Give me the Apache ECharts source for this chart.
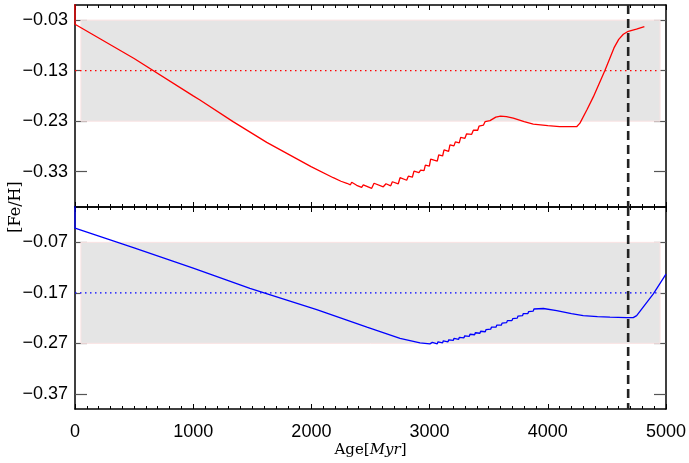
<!DOCTYPE html>
<html>
<head>
<meta charset="utf-8">
<script src="https://cdn.jsdelivr.net/npm/echarts@6/dist/echarts.min.js"></script>
<style>html,body{margin:0;padding:0;background:#fff;}#c{width:689px;height:463px;}</style>
</head>
<body>
<div id="c"></div>
<script>
// ---- data ----
const redAge = [0,0,500,1000,1057,1337,1622,1997,2185,2250,2300,2330,2341,2383,2425,2439,2510,2530,2608,2631,2671,2685,2735,2750,2806,2820,2854,2868,2910,2924,2953,2964,2998,3009,3065,3077,3110,3122,3161,3172,3206,3218,3251,3263,3299,3313,3356,3370,3407,3418,3455,3469,3511,3560,3600,3650,3708,3800,3877,4000,4100,4244,4272,4330,4385,4484,4560,4600,4639,4681,4750,4817];
const redFeH = [0.05,-0.038,-0.106,-0.180,-0.188,-0.231,-0.272,-0.320,-0.342,-0.349,-0.353,-0.356,-0.351,-0.357,-0.361,-0.356,-0.363,-0.353,-0.360,-0.354,-0.358,-0.350,-0.354,-0.342,-0.347,-0.339,-0.341,-0.329,-0.332,-0.327,-0.328,-0.317,-0.319,-0.305,-0.309,-0.297,-0.299,-0.287,-0.290,-0.277,-0.279,-0.271,-0.273,-0.262,-0.264,-0.255,-0.256,-0.248,-0.248,-0.240,-0.238,-0.231,-0.229,-0.222,-0.220,-0.221,-0.224,-0.231,-0.236,-0.239,-0.241,-0.241,-0.234,-0.208,-0.182,-0.129,-0.085,-0.068,-0.058,-0.052,-0.048,-0.043];

const blueAge = [0,0,500,1000,1480,2045,2470,2750,2919,3003,3017,3023,3065,3071,3110,3116,3156,3162,3201,3207,3246,3252,3291,3297,3336,3342,3381,3387,3426,3432,3471,3477,3517,3523,3562,3568,3607,3613,3652,3658,3697,3703,3742,3748,3787,3793,3832,3838,3877,3883,3963,4075,4200,4300,4420,4526,4667,4723,4752,4893,5000];
const blueFeH = [0.05,-0.042,-0.081,-0.121,-0.161,-0.203,-0.238,-0.260,-0.269,-0.271,-0.272,-0.268,-0.271,-0.267,-0.269,-0.265,-0.267,-0.263,-0.264,-0.260,-0.262,-0.258,-0.259,-0.255,-0.256,-0.252,-0.253,-0.249,-0.250,-0.246,-0.247,-0.243,-0.242,-0.238,-0.238,-0.234,-0.234,-0.230,-0.229,-0.225,-0.225,-0.221,-0.220,-0.216,-0.215,-0.211,-0.211,-0.207,-0.206,-0.202,-0.201,-0.205,-0.211,-0.215,-0.217,-0.218,-0.219,-0.219,-0.215,-0.172,-0.133];

const xTicks = [0,1000,2000,3000,4000,5000];
const topYTicks = [-0.03,-0.13,-0.23,-0.33];
const botYTicks = [-0.07,-0.17,-0.27,-0.37];
const topBand = [-0.03,-0.23];
const botBand = [-0.07,-0.27];
const bandAge = [50,4950];
const topRef = -0.13;
const botRef = -0.17;
const solarAge = 4680;

// ---- chart ----
const chart = echarts.init(document.getElementById('c'), null, {renderer:'canvas'});
const pairs = (a,b)=>a.map((x,i)=>[x,b[i]]);
const fmt = v => (v<0?'\u2212':'') + Math.abs(v).toFixed(2);
const labelFont = {fontFamily:'Liberation Sans', fontSize:18, color:'#000'};

function xAx(gi, pos, showLabel){
  return {
    type:'value', gridIndex:gi, position:pos, min:xTicks[0], max:xTicks[xTicks.length-1], interval:xTicks[1]-xTicks[0],
    axisLine:{show:true, onZero:false, lineStyle:{color:'#000', width:1.5}},
    axisTick:{show:true, inside:true, length:5, lineStyle:{color:'#000', width:1}},
    minorTick:{show:true, splitNumber:10, length:3, lineStyle:{color:'#000', width:1}},
    splitLine:{show:false}, minorSplitLine:{show:false},
    axisLabel:{show:showLabel, margin:14, formatter:v=>String(v), ...labelFont},
  };
}
function yAx(gi, pos, ticks, showLabel){
  return {
    type:'value', gridIndex:gi, position:pos, min:-0.4, max:0,
    axisLine:{show:true, onZero:false, lineStyle:{color:'#000', width:1.5}},
    axisTick:{show:true, inside:true, length:12, customValues:ticks, lineStyle:{color:'#555', width:1.2}},
    splitLine:{show:false},
    axisLabel:{show:showLabel, customValues:ticks, formatter:fmt, margin:7, ...labelFont},
  };
}

const xAxes = [xAx(0,'bottom',false), xAx(0,'top',false), xAx(1,'bottom',true), xAx(1,'top',false)];
xAxes[2].name = 'Age[{i|Myr}]';
xAxes[2].nameLocation = 'middle';
xAxes[2].nameGap = 34;
xAxes[2].nameTextStyle = {fontFamily:'DejaVu Serif', fontSize:15, color:'#000', rich:{i:{fontFamily:'DejaVu Serif', fontStyle:'italic', fontSize:15, color:'#000'}}};
// invisible helper axis for the shared y title
xAxes.push({type:'value', gridIndex:2, show:false, min:0, max:1});

const yAxes = [yAx(0,'left',topYTicks,true), yAx(0,'right',topYTicks,false), yAx(1,'left',botYTicks,true), yAx(1,'right',botYTicks,false)];
yAxes.push({type:'value', gridIndex:2, min:0, max:1, position:'left',
  axisLine:{show:false}, axisTick:{show:false}, axisLabel:{show:false}, splitLine:{show:false},
  name:'[Fe/H]', nameLocation:'middle', nameGap:52, nameRotate:90,
  nameTextStyle:{fontFamily:'DejaVu Serif', fontSize:16, color:'#000'}});

function band(gi, b){
  return {type:'line', xAxisIndex:gi*2, yAxisIndex:gi*2, data:[], silent:true, z:1,
    markArea:{silent:true, itemStyle:{color:'#e5e5e5', borderColor:'#fbe3e3', borderWidth:1},
      data:[[{xAxis:bandAge[0], yAxis:b[0]},{xAxis:bandAge[1], yAxis:b[1]}]]}};
}
function refLine(gi, v, color){
  return {type:'line', xAxisIndex:gi*2, yAxisIndex:gi*2, data:[[0,v],[bandAge[1],v]], symbol:'none', silent:true, z:2,
    lineStyle:{color:color, width:1.2, type:[1.5,3.5]}};
}
function curve(gi, a, b, color){
  return {type:'line', xAxisIndex:gi*2, yAxisIndex:gi*2, data:pairs(a,b), symbol:'none', clip:true, z:3,
    lineStyle:{color:color, width:1.3}};
}
function vline(gi){
  return {type:'line', xAxisIndex:gi*2, yAxisIndex:gi*2, data:[[solarAge,0.0],[solarAge,-0.4]], symbol:'none', silent:true, z:4, clip:true,
    lineStyle:{color:'#222', width:2.6, type:[9,5]}};
}

chart.setOption({
  animation:false,
  backgroundColor:'#fff',
  grid:[{left:75, right:23, top:5, height:202}, {left:75, right:23, top:207, height:202}, {left:75, right:23, top:5, height:404}],
  xAxis: xAxes,
  yAxis: yAxes,
  series:[
    band(0, topBand), band(1, botBand),
    refLine(0, topRef, '#ff0000'), refLine(1, botRef, '#0000ff'),
    curve(0, redAge, redFeH, '#ff0000'), curve(1, blueAge, blueFeH, '#0000ff'),
    vline(0), vline(1)
  ]
});
</script>
</body>
</html>
